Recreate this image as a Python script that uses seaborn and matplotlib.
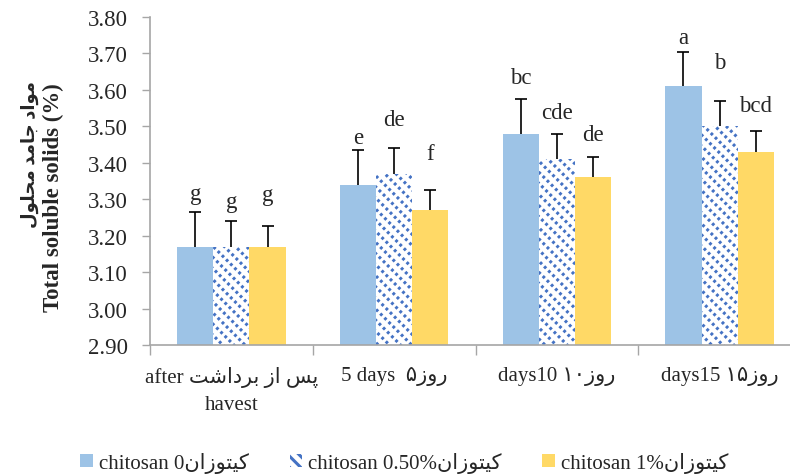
import numpy as np
import pandas as pd
import matplotlib
matplotlib.use("Agg")
import matplotlib.pyplot as plt
import seaborn as sns
from matplotlib.patches import Patch, Rectangle
from matplotlib.ticker import FixedLocator, FormatStrFormatter

# ---------------- data ----------------
days_en = ["after", "5 days", "days10", "days15"]
treatments = ["chitosan 0", "chitosan 0.50%", "chitosan 1%"]
tss_0 = [3.17, 3.34, 3.48, 3.61]
tss_05 = [3.17, 3.37, 3.41, 3.50]
tss_1 = [3.17, 3.27, 3.36, 3.43]
err_0 = [0.095, 0.095, 0.095, 0.093]
err_05 = [0.070, 0.070, 0.070, 0.070]
err_1 = [0.056, 0.056, 0.057, 0.058]
letters_0 = ["g", "e", "bc", "a"]
letters_05 = ["g", "de", "cde", "b"]
letters_1 = ["g", "f", "de", "bcd"]
letter_y_0 = [3.300, 3.454, 3.619, 3.729]
letter_y_05 = [3.279, 3.504, 3.523, 3.660]
letter_y_1 = [3.299, 3.410, 3.463, 3.542]
yticks = [2.90, 3.00, 3.10, 3.20, 3.30, 3.40, 3.50, 3.60, 3.70, 3.80]

# ------------- minimal Persian shaping (visual order) -------------
FORMS = {
    "ا": (0xFE8D, 0xFE8E, None, None),
    "ب": (0xFE8F, 0xFE90, 0xFE91, 0xFE92),
    "پ": (0xFB56, 0xFB57, 0xFB58, 0xFB59),
    "ت": (0xFE95, 0xFE96, 0xFE97, 0xFE98),
    "ج": (0xFE9D, 0xFE9E, 0xFE9F, 0xFEA0),
    "ح": (0xFEA1, 0xFEA2, 0xFEA3, 0xFEA4),
    "د": (0xFEA9, 0xFEAA, None, None),
    "ر": (0xFEAD, 0xFEAE, None, None),
    "ز": (0xFEAF, 0xFEB0, None, None),
    "س": (0xFEB1, 0xFEB2, 0xFEB3, 0xFEB4),
    "ش": (0xFEB5, 0xFEB6, 0xFEB7, 0xFEB8),
    "ل": (0xFEDD, 0xFEDE, 0xFEDF, 0xFEE0),
    "م": (0xFEE1, 0xFEE2, 0xFEE3, 0xFEE4),
    "ن": (0xFEE5, 0xFEE6, 0xFEE7, 0xFEE8),
    "و": (0xFEED, 0xFEEE, None, None),
    "ک": (0xFB8E, 0xFB8F, 0xFB90, 0xFB91),
    "ی": (0xFBFC, 0xFBFD, 0xFBFE, 0xFBFF),
}


def shape_word(w):
    out = []
    for i, ch in enumerate(w):
        f = FORMS[ch]
        prev_j = i > 0 and FORMS[w[i - 1]][2] is not None
        next_j = i < len(w) - 1 and f[2] is not None
        if prev_j and next_j:
            g = f[3]
        elif prev_j:
            g = f[1]
        elif next_j:
            g = f[2]
        else:
            g = f[0]
        out.append(chr(g))
    return "".join(out)


def fa(phrase):
    words = [shape_word(w)[::-1] for w in phrase.split(" ")]
    return " ".join(words[::-1])


day_labels = [
    days_en[0] + " " + fa("پس از برداشت") + "\nhavest",
    days_en[1] + "  " + "۵" + fa("روز"),
    days_en[2] + " " + "۱۰" + fa("روز"),
    days_en[3] + " " + "۱۵" + fa("روز"),
]
legend_labels = [t + fa("کیتوزان") for t in treatments]

df = pd.DataFrame({
    "day": np.repeat(day_labels, 3),
    "treatment": treatments * 4,
    "tss": [v for trio in zip(tss_0, tss_05, tss_1) for v in trio],
})

# ---------------- style ----------------
sns.set_style("white")
FAM = ["Liberation Serif", "DejaVu Sans"]
plt.rcParams["font.family"] = FAM
plt.rcParams["hatch.color"] = "#4472C4"
plt.rcParams["hatch.linewidth"] = 2.2

colors = ["#9DC3E6", "#FFFFFF", "#FFD966"]
HATCH_BLUE = "#4472C4"
GRAY = "#A6A6A6"
FS = 16.5

fig = plt.figure(figsize=(7.9, 4.77), dpi=100)
ax = fig.add_axes([150 / 790, 1 - 346 / 477, 651 / 790, 328 / 477])

sns.barplot(data=df, x="day", y="tss", hue="treatment", palette=colors,
            width=0.667, errorbar=None, ax=ax, legend=False,
            saturation=1, linewidth=0)

errs = [err_0, err_05, err_1]
letters = [letters_0, letters_05, letters_1]
letter_ys = [letter_y_0, letter_y_05, letter_y_1]
bar_containers = list(ax.containers)
for k, cont in enumerate(bar_containers):
    xs, hs = [], []
    for p in cont.patches:
        xs.append(p.get_x() + p.get_width() / 2)
        hs.append(p.get_height())
        if k == 1:
            p.set_hatch("\\\\\\")
            p.set_edgecolor(HATCH_BLUE)
            p.set_linewidth(0)
            # white cross-hatch over the stripes breaks them into dashes
            ov = Rectangle(p.get_xy(), p.get_width(), p.get_height(),
                           facecolor="none", edgecolor="white", hatch="////",
                           linewidth=0, zorder=p.get_zorder() + 0.1)
            ax.add_patch(ov)
    eb = ax.errorbar(xs, hs, yerr=[np.zeros(len(hs)), errs[k]], fmt="none",
                     ecolor="black", elinewidth=1.2, capsize=4, capthick=1.2,
                     zorder=5)
    eb[1][0].remove()  # drop the lower cap at the bar top
    for x, ly, lt in zip(xs, letter_ys[k], letters[k]):
        ax.text(x, ly, lt, ha="center", va="baseline", fontsize=FS,
                family=FAM)

ax.set_ylim(2.90, 3.80)
ax.set_xlim(-0.5, 3.5)
ax.yaxis.set_major_locator(FixedLocator(yticks))
ax.yaxis.set_major_formatter(FormatStrFormatter("%.2f"))
ax.tick_params(axis="y", which="major", direction="out", length=6,
               width=1, color=GRAY, pad=10, labelsize=FS, left=True)
ax.set_xticks(range(4))
ax.set_xticklabels(day_labels, linespacing=1.6)
ax.tick_params(axis="x", which="major", length=0, pad=15, labelsize=15)
ax.set_xticks([-0.5, 0.5, 1.5, 2.5, 3.5], minor=True)
ax.tick_params(axis="x", which="minor", direction="out", length=7,
               width=1, color=GRAY, bottom=True)
for lab in ax.get_xticklabels() + ax.get_yticklabels():
    lab.set_family(FAM)

for s in ["top", "right"]:
    ax.spines[s].set_visible(False)
for s in ["left", "bottom"]:
    ax.spines[s].set_color(GRAY)
    ax.spines[s].set_linewidth(1.2)
ax.set_xlabel("")
ax.set_ylabel("")

fig.text(53 / 790, 1 - 198 / 477, "Total soluble solids (%)", rotation=90,
         ha="center", va="center", fontsize=FS, fontweight="bold", family=FAM)
fig.text(30 / 790, 1 - 154 / 477, fa("مواد جامد محلول"), rotation=90,
         ha="center", va="center", fontsize=13, fontweight="bold", family=FAM)

handles = [
    Patch(facecolor=colors[0], edgecolor="none"),
    Patch(facecolor="white", edgecolor=HATCH_BLUE, hatch="\\\\\\", linewidth=0),
    Patch(facecolor=colors[2], edgecolor="none"),
]
fig.legend(handles, legend_labels, loc="center", bbox_to_anchor=(0.512, 0.029),
           ncol=3, frameon=False, handlelength=0.6, handleheight=0.6,
           handletextpad=0.3, columnspacing=1.95, prop={"family": FAM, "size": 15})

fig.savefig("out.png", dpi=100)
